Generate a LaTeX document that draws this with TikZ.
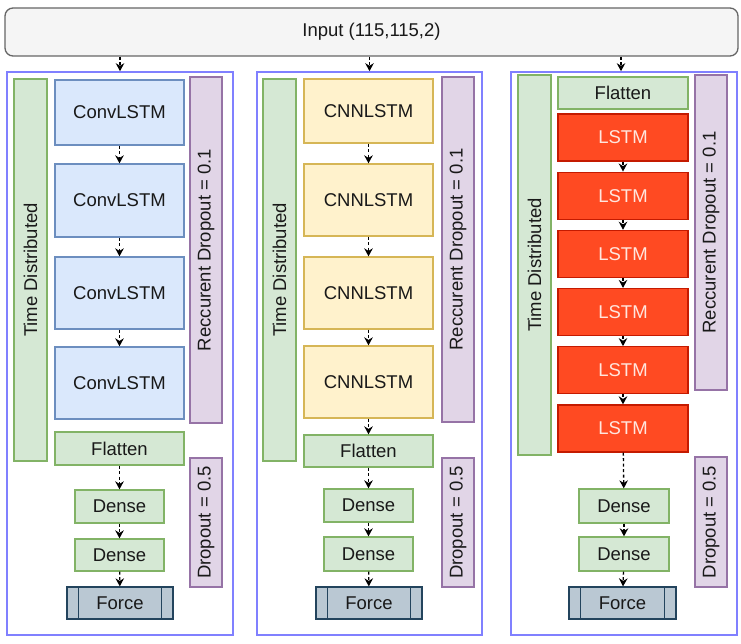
\documentclass[tikz,border=0pt]{standalone}
\usepackage{fontspec}
\setmainfont{Liberation Sans}
\usetikzlibrary{arrows.meta}
\definecolor{inpfill}{HTML}{F5F5F5}
\definecolor{inpline}{HTML}{666666}
\definecolor{panelline}{HTML}{8080FF}
\definecolor{convfill}{HTML}{DAE8FC}
\definecolor{convline}{HTML}{6C8EBF}
\definecolor{cnnfill}{HTML}{FFF2CC}
\definecolor{cnnline}{HTML}{D6B656}
\definecolor{lstmfill}{HTML}{FF4A22}
\definecolor{lstmline}{HTML}{C41A00}
\definecolor{lstmtext}{HTML}{FFE6DE}
\definecolor{greenfill}{HTML}{D5E8D4}
\definecolor{greenline}{HTML}{82B366}
\definecolor{dropfill}{HTML}{E1D5E7}
\definecolor{dropline}{HTML}{9673A6}
\definecolor{forcefill}{HTML}{BAC8D3}
\definecolor{forceline}{HTML}{23445D}
\begin{document}
\begin{tikzpicture}[x=1pt,y=-1pt,
  box/.style={draw, line width=1.3pt, inner sep=0pt, font=\fontsize{18.5}{20}\selectfont, text=black!90},
  convbox/.style={box, fill=convfill, draw=convline, minimum width=129pt},
  cnnbox/.style={box, fill=cnnfill, draw=cnnline, minimum width=129pt},
  lstmbox/.style={box, fill=lstmfill, draw=lstmline, text=lstmtext, minimum width=130pt, minimum height=47pt},
  greenbox/.style={box, fill=greenfill, draw=greenline},
  dropbox/.style={box, fill=dropfill, draw=dropline, rotate=90, minimum height=32pt},
  tdbox/.style={greenbox, rotate=90, minimum height=33pt},
  densebox/.style={greenbox, minimum width=89pt, minimum height=33pt},
  forcebox/.style={box, fill=forcefill, draw=forceline, minimum width=106pt, minimum height=32pt},
  panel/.style={draw=panelline, line width=1.6pt, minimum width=226pt, minimum height=563pt, inner sep=0pt},
  flow/.style={-{Stealth[length=8pt,width=8.5pt]}, dash pattern=on 3pt off 2.5pt, line width=1.3pt}
]
\useasboundingbox (0,0) rectangle (741,644);

\node[box, fill=inpfill, draw=inpline, rounded corners=8pt, minimum width=733pt, minimum height=48pt] (inp) at (371.5,32) {Input (115,115,2)};

\node[panel] (p1) at (120,353.5) {};
\node[panel, minimum width=225pt] (p2) at (369.5,353.5) {};
\node[panel] (p3) at (624,353.5) {};
\draw[flow] (inp.south -| p1.north) -- (p1.north);
\draw[flow] (inp.south -| p2.north) -- (p2.north);
\draw[flow] (inp.south -| 621,0) -- (p3.north -| 621,0);

\node[tdbox, minimum width=382pt] (td1) at (30.5,270) {Time Distributed};
\node[convbox, minimum height=65pt] (c1) at (119.5,112.5) {ConvLSTM};
\node[convbox, minimum height=73pt] (c2) at (119.5,200.5) {ConvLSTM};
\node[convbox, minimum height=72pt] (c3) at (119.5,293) {ConvLSTM};
\node[convbox, minimum height=72pt] (c4) at (119.5,383) {ConvLSTM};
\node[greenbox, minimum width=129pt, minimum height=33pt] (fl1) at (119.5,448.5) {Flatten};
\node[densebox] (d11) at (119.5,506.5) {Dense};
\node[densebox, minimum height=32pt] (d12) at (119.5,555) {Dense};
\node[forcebox] (f1) at (120,603) {Force};
\node[dropbox, minimum width=346pt] (rd1) at (206,250) {Reccurent Dropout = 0.1};
\node[dropbox, minimum width=129pt] (do1) at (206,522.5) {Dropout = 0.5};
\draw[flow] (c1) -- (c2);
\draw[flow] (c2) -- (c3);
\draw[flow] (c3) -- (c4);
\draw[flow] (fl1) -- (d11);
\draw[flow] (d11) -- (d12);
\draw[flow] (d12) -- (f1);

\node[tdbox, minimum width=382pt] (td2) at (279.5,270) {Time Distributed};
\node[cnnbox, minimum height=64pt] (n1) at (368.5,111) {CNNLSTM};
\node[cnnbox, minimum height=72pt] (n2) at (368.5,200) {CNNLSTM};
\node[cnnbox, minimum height=72pt] (n3) at (368.5,293) {CNNLSTM};
\node[cnnbox, minimum height=72pt] (n4) at (368.5,382) {CNNLSTM};
\node[greenbox, minimum width=129pt, minimum height=32pt] (fl2) at (368.5,451) {Flatten};
\node[densebox] (d21) at (368.5,505.5) {Dense};
\node[densebox, minimum height=34pt] (d22) at (368.5,554) {Dense};
\node[forcebox] (f2) at (369,603) {Force};
\node[dropbox, minimum width=345pt] (rd2) at (458,249.5) {Reccurent Dropout = 0.1};
\node[dropbox, minimum width=129pt] (do2) at (458,522.5) {Dropout = 0.5};
\draw[flow] (n1) -- (n2);
\draw[flow] (n2) -- (n3);
\draw[flow] (n3) -- (n4);
\draw[flow] (n4) -- (fl2);
\draw[flow] (fl2) -- (d21);
\draw[flow] (d21) -- (d22);
\draw[flow] (d22) -- (f2);

\node[tdbox, minimum width=380pt] (td3) at (534.5,265) {Time Distributed};
\node[greenbox, minimum width=130pt, minimum height=32pt] (fl3) at (623,93) {Flatten};
\node[lstmbox] (l1) at (623,137.5) {LSTM};
\node[lstmbox] (l2) at (623,195.7) {LSTM};
\node[lstmbox] (l3) at (623,253.9) {LSTM};
\node[lstmbox] (l4) at (623,312.1) {LSTM};
\node[lstmbox] (l5) at (623,370.3) {LSTM};
\node[lstmbox] (l6) at (623,428.5) {LSTM};
\node[densebox, minimum width=90pt, minimum height=34pt] (d31) at (624,506) {Dense};
\node[densebox, minimum width=90pt, minimum height=34pt] (d32) at (624,554) {Dense};
\node[forcebox, minimum width=107pt] (f3) at (622.5,603) {Force};
\node[dropbox, minimum width=315pt] (rd3) at (711,232.5) {Reccurent Dropout = 0.1};
\node[dropbox, minimum width=130pt] (do3) at (711,522) {Dropout = 0.5};
\draw[flow] (l1) -- (l2);
\draw[flow] (l2) -- (l3);
\draw[flow] (l3) -- (l4);
\draw[flow] (l4) -- (l5);
\draw[flow] (l5) -- (l6);
\draw[flow] (l6) -- (d31);
\draw[flow] (d31) -- (d32);
\draw[flow] (d32) -- (f3);

\foreach \f in {f1,f2,f3} {
  \draw[forceline, line width=1.3pt] ([xshift=12pt]\f.north west) -- ([xshift=12pt]\f.south west);
  \draw[forceline, line width=1.3pt] ([xshift=-12pt]\f.north east) -- ([xshift=-12pt]\f.south east);
}
\end{tikzpicture}
\end{document}
